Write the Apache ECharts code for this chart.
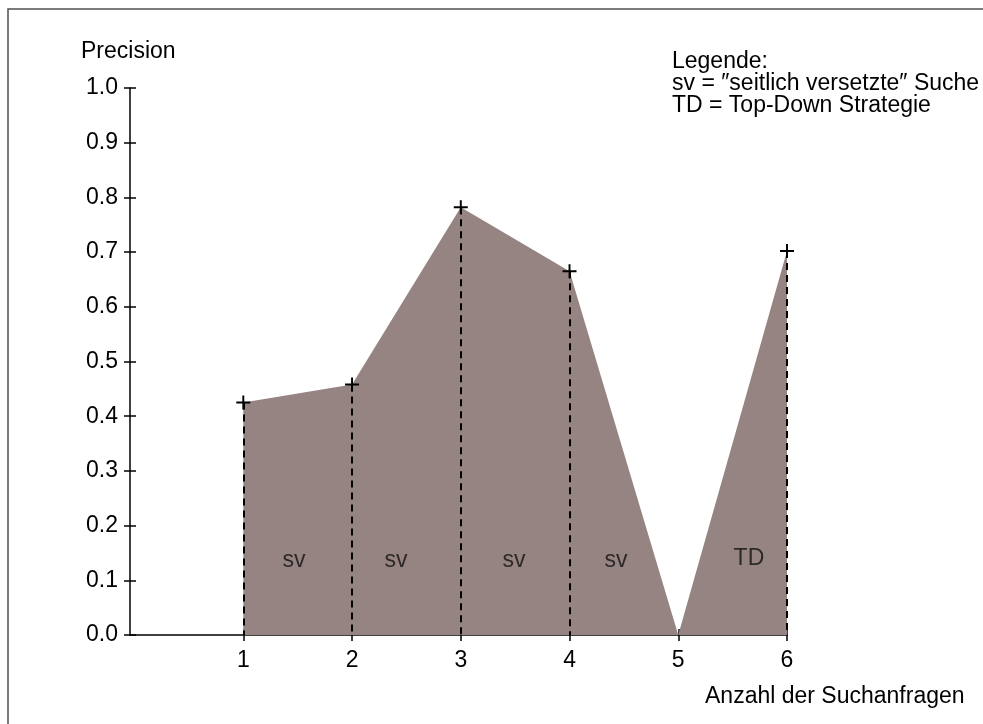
<!DOCTYPE html>
<html><head><meta charset="utf-8">
<script src="https://cdn.jsdelivr.net/npm/echarts@6/dist/echarts.min.js"></script>
<style>html,body{margin:0;padding:0;background:#fff}#c{width:983px;height:724px}</style>
</head><body><div id="c"></div>
<script>
// ---- data ----
const queries = [1, 2, 3, 4, 5, 6];
const precision = [0.425, 0.458, 0.782, 0.665, 0, 0.702];
const segLabels = ['sv', 'sv', 'sv', 'sv', 'TD'];
const segLabelX = [1.466, 2.404, 3.489, 4.427, 5.65];
const segLabelY = [0.135, 0.135, 0.135, 0.135, 0.14];
const yTicks = [0, 0.1, 0.2, 0.3, 0.4, 0.5, 0.6, 0.7, 0.8, 0.9, 1.0];
const yTitle = 'Precision';
const xTitle = 'Anzahl der Suchanfragen';
const legendLines = ['Legende:', 'sv = \u2033seitlich versetzte\u2033 Suche', 'TD = Top-Down Strategie'];

const FONT = "'Liberation Sans', Arial, sans-serif";
const FS = 23;
const chart = echarts.init(document.getElementById('c'));
const plusPath = 'path://M0,5.6H13V7.4H0Z M5.6,0H7.4V13H5.6Z';

const areaData = queries.map((q, i) => precision[i] === 0 ? {value: [q, precision[i]], symbol: 'none'} : [q, precision[i]]);
const dashData = queries.map((q, i) => [{coord: [q, precision[i]]}, {coord: [q, 0]}]).filter((d, i) => precision[i] > 0);

const xBase = {
  type: 'value', min: -0.042, max: 6, position: 'bottom',
  splitLine: {show: false},
  axisLine: {show: true, onZero: false, lineStyle: {color: '#000', width: 1.5}},
  axisTick: {show: true, customValues: queries, length: 6, lineStyle: {color: '#000', width: 1.5}},
  axisLabel: {show: true, customValues: queries, margin: 14, color: '#000', fontSize: FS, fontFamily: FONT}
};
const yBase = {
  type: 'value', min: 0, max: 1, interval: 0.1, position: 'left',
  splitLine: {show: false},
  axisLine: {show: true, onZero: false, lineStyle: {color: '#000', width: 1.5}},
  axisTick: {show: true, length: 6, lineStyle: {color: '#000', width: 1.5}},
  axisLabel: {show: true, margin: 12, color: '#000', fontSize: FS, fontFamily: FONT, formatter: v => v.toFixed(1)}
};

chart.setOption({
  animation: false,
  backgroundColor: '#fff',
  grid: {left: 130, right: 196, top: 88, bottom: 89, containLabel: false},
  xAxis: [
    xBase,
    Object.assign({}, xBase, {axisLine: {show: false, onZero: false}, axisLabel: {show: false}, axisTick: Object.assign({}, xBase.axisTick, {inside: true})})
  ],
  yAxis: [
    yBase,
    Object.assign({}, yBase, {axisLine: {show: false, onZero: false}, axisLabel: {show: false}, axisTick: Object.assign({}, yBase.axisTick, {inside: true})})
  ],
  series: [
    {
      type: 'line', data: areaData, z: 2,
      lineStyle: {opacity: 0, width: 0},
      areaStyle: {color: '#958482', opacity: 1},
      symbol: plusPath, symbolSize: 14, showSymbol: true,
      itemStyle: {color: '#000'}
    },
    {
      type: 'line', data: [], z: 3,
      markLine: {
        silent: true, symbol: ['none', 'none'], label: {show: false},
        lineStyle: {color: '#000', width: 2, type: [7, 5]},
        data: dashData
      }
    },
    {
      type: 'scatter', z: 5, symbolSize: 0,
      data: segLabels.map((s, i) => ({name: s, value: [segLabelX[i], segLabelY[i]]})),
      label: {show: true, position: 'inside', formatter: p => p.name, color: '#111', fontSize: FS, fontFamily: FONT}
    }
  ],
  graphic: [
    {type: 'rect', shape: {x: 8, y: 9, width: 1000, height: 1000}, style: {fill: 'none', stroke: '#505050', lineWidth: 1.5}, z: 0, silent: true},
    {type: 'text', left: 81, top: 40, style: {text: yTitle, fontSize: FS, fontFamily: FONT, fill: '#000'}},
    {type: 'text', left: 705, top: 685, style: {text: xTitle, fontSize: FS, fontFamily: FONT, fill: '#000'}},
    {type: 'text', left: 672, top: 50, style: {text: legendLines.join('\n'), fontSize: FS, lineHeight: 22, fontFamily: FONT, fill: '#000'}}
  ]
});
</script></body></html>
